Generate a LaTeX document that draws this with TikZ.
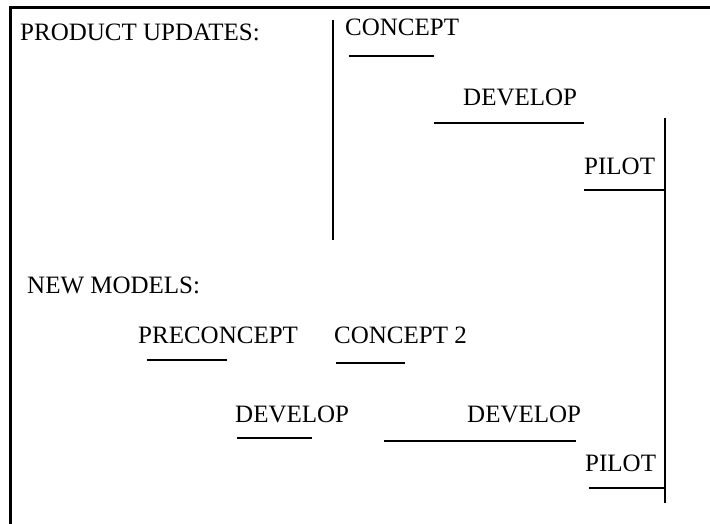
\documentclass[tikz,border=0pt]{standalone}
\usepackage{fontspec}
\setmainfont{Liberation Serif}

\tikzset{
  lbl/.style={anchor=base west, inner sep=0pt, font=\fontsize{25}{30}\selectfont},
  bar/.style={line width=2.5pt},
}

\begin{document}
\begin{tikzpicture}[x=1pt, y=-1pt]
\useasboundingbox (0,0) rectangle (710,524);

% frame
\draw[line width=3pt] (10,530) -- (10,8) -- (720,8);

% product updates
\node[lbl] (pu) at (20,41) {PRODUCT UPDATES:};
\draw[bar] (333,20) -- (333,240);
\node[lbl] (pucon) at (345,36) {CONCEPT};
\draw[bar] (349,56) -- (434,56);
\node[lbl] (pudev) at (463,106) {DEVELOP};
\draw[bar] (434,123) -- (584,123);
\node[lbl] (pupil) at (584,175) {PILOT};
\draw[bar] (584,190) -- (665,190);
\draw[bar] (665,118) -- (665,503);

% new models
\node[lbl] (nm) at (27,293) {NEW MODELS:};
\node[lbl] (nmpre) at (138,343) {PRECONCEPT};
\draw[bar] (147,360) -- (227,360);
\node[lbl] (nmcon) at (334,343) {CONCEPT 2};
\draw[bar] (336,363) -- (405,363);
\node[lbl] (nmdeva) at (235,422) {DEVELOP};
\draw[bar] (237,438) -- (312,438);
\node[lbl] (nmdevb) at (467,422) {DEVELOP};
\draw[bar] (384,441) -- (576,441);
\node[lbl] (nmpil) at (585,471) {PILOT};
\draw[bar] (589,488) -- (665,488);
\end{tikzpicture}
\end{document}
